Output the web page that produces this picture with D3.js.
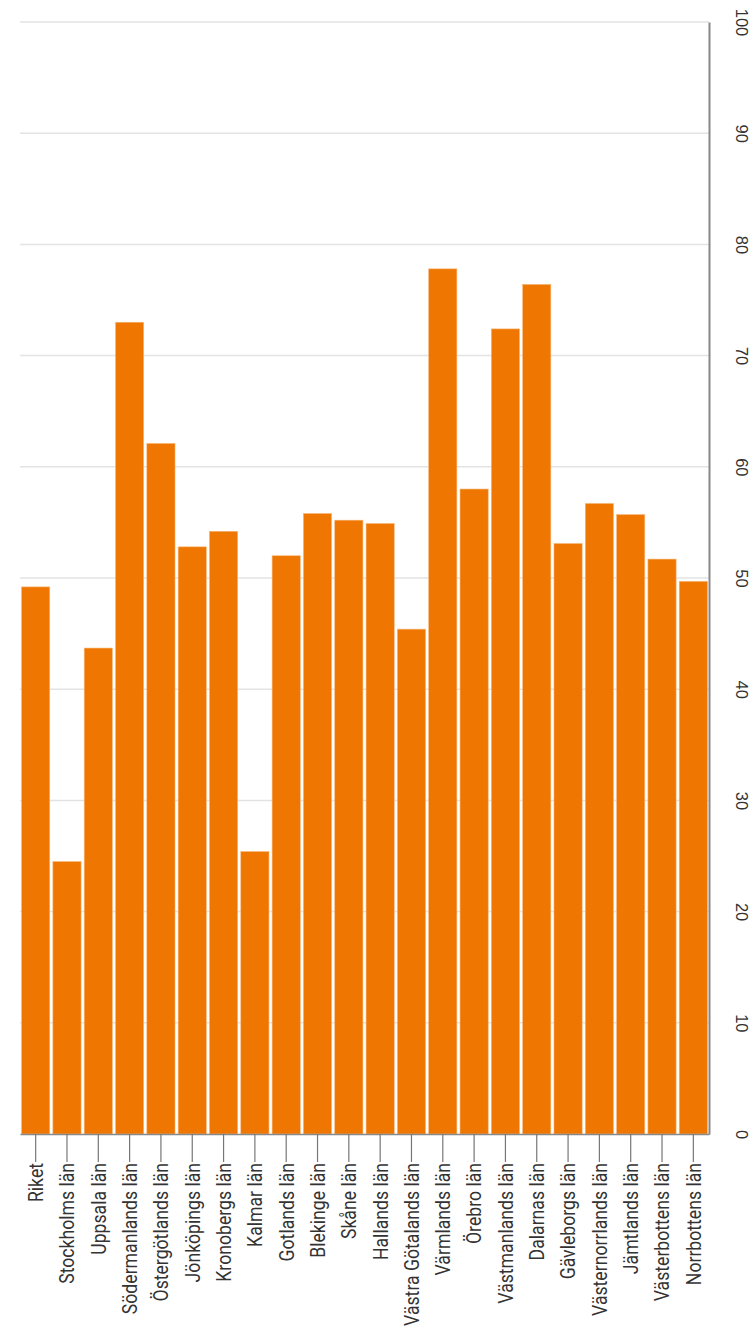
<!DOCTYPE html>
<html>
<head>
<meta charset="utf-8">
<script src="https://cdn.jsdelivr.net/npm/d3@7"></script>
<style>
  body { margin: 0; background: #fff; }
  .x-axis text { font-family: "Liberation Sans Narrow", "Roboto", sans-serif; font-size: 21px; fill: #333; }
  .y-axis text { font-family: "Liberation Sans", Arial, sans-serif; font-size: 16.5px; fill: #333; }
</style>
</head>
<body>
<div id="chart"></div>
<script>
// Data
var categories = ["Riket", "Stockholms län", "Uppsala län", "Södermanlands län", "Östergötlands län",
  "Jönköpings län", "Kronobergs län", "Kalmar län", "Gotlands län", "Blekinge län", "Skåne län",
  "Hallands län", "Västra Götalands län", "Värmlands län", "Örebro län", "Västmanlands län",
  "Dalarnas län", "Gävleborgs län", "Västernorrlands län", "Jämtlands län", "Västerbottens län",
  "Norrbottens län"];
var values = [49.2, 24.5, 43.7, 73.0, 62.1, 52.8, 54.2, 25.4, 52.0, 55.8, 55.2, 54.9, 45.4,
  77.8, 58.0, 72.4, 76.4, 53.1, 56.7, 55.7, 51.7, 49.7];
var yTicks = [0, 10, 20, 30, 40, 50, 60, 70, 80, 90, 100];

// Dimensions
var margin = {top: 22, right: 46, bottom: 195, left: 20},
    width = 755 - margin.left - margin.right,
    height = 1329 - margin.top - margin.bottom;

var svg = d3.select("#chart")
    .append("svg")
    .attr("width", 755)
    .attr("height", 1329)
    .append("g")
    .attr("transform", "translate(" + margin.left + "," + margin.top + ")");

var x = d3.scaleBand()
    .domain(categories)
    .range([0, width])
    .paddingInner(0.1)
    .paddingOuter(0.05);

var y = d3.scaleLinear()
    .domain([0, 100])
    .range([height, 0]);

// Gridlines
svg.append("g")
    .selectAll("line")
    .data(yTicks.slice(1))
    .enter()
    .append("line")
    .attr("x1", 0)
    .attr("x2", width)
    .attr("y1", function (d) { return y(d); })
    .attr("y2", function (d) { return y(d); })
    .attr("stroke", "#e3e3e3")
    .attr("stroke-width", 1.5);

// Bars
svg.append("g")
    .selectAll("rect")
    .data(values)
    .enter()
    .append("rect")
    .attr("x", function (d, i) { return x(categories[i]); })
    .attr("width", x.bandwidth())
    .attr("y", function (d) { return y(d); })
    .attr("height", function (d) { return height - y(d); })
    .attr("fill", "#ee7601")
    .attr("stroke", "#f7b777")
    .attr("stroke-width", 0.6);

// Bottom axis, labels squeezed along the text direction
var squeeze = 0.84;
var xAxis = svg.append("g")
    .attr("class", "x-axis")
    .attr("transform", "translate(0," + height + ")")
    .call(d3.axisBottom(x).tickSize(28).tickSizeOuter(0).tickPadding(2));
xAxis.select(".domain").attr("stroke", "#888").attr("stroke-width", 1.5);
xAxis.selectAll(".tick line").attr("stroke", "#777").attr("stroke-width", 1.2);
xAxis.selectAll("text")
    .attr("transform", "rotate(-90) scale(" + squeeze + ",1)")
    .attr("x", -29 / squeeze)
    .attr("y", 0)
    .attr("dy", "0.35em")
    .style("text-anchor", "end");

// Right axis
var yAxis = svg.append("g")
    .attr("class", "y-axis")
    .attr("transform", "translate(" + width + ",0)")
    .call(d3.axisRight(y).tickValues(yTicks).tickSize(0).tickPadding(0));
yAxis.select(".domain").attr("stroke", "#888").attr("stroke-width", 2);
yAxis.selectAll("text")
    .attr("transform", "translate(33,0) rotate(90)")
    .attr("x", 0)
    .attr("dy", "0.35em")
    .style("text-anchor", "middle");
</script>
</body>
</html>
